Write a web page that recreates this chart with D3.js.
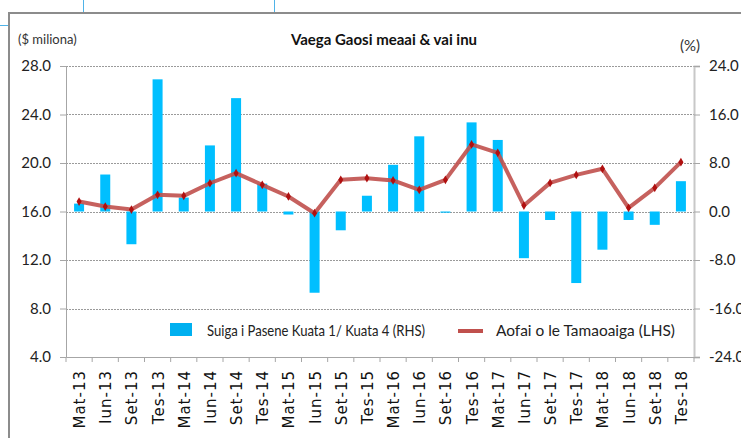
<!DOCTYPE html>
<html>
<head>
<meta charset="utf-8">
<script src="https://cdn.jsdelivr.net/npm/d3@7"></script>
<style>
  body { margin: 0; background: #fff; }
  svg { display: block; font-family: Lato, "Liberation Sans", sans-serif; }
</style>
</head>
<body>
<svg id="chart" width="741" height="438"></svg>
<script>
// quarters on the x axis
const quarters = ["Mat-13","Iun-13","Set-13","Tes-13","Mat-14","Iun-14","Set-14","Tes-14",
  "Mat-15","Iun-15","Set-15","Tes-15","Mat-16","Iun-16","Set-16","Tes-16",
  "Mat-17","Iun-17","Set-17","Tes-17","Mat-18","Iun-18","Set-18","Tes-18"];

// bars: quarterly change in % (right axis)
const changePct = [1.3, 6.1, -5.4, 21.8, 2.3, 10.9, 18.7, 4.6,
  -0.5, -13.4, -3.1, 2.6, 7.7, 12.4, -0.2, 14.7,
  11.8, -7.7, -1.4, -11.8, -6.3, -1.4, -2.2, 5.0];

// line: value in $ millions (left axis)
const valueMil = [16.82, 16.41, 16.16, 17.38, 17.29, 18.33, 19.16, 18.2,
  17.24, 15.86, 18.61, 18.75, 18.56, 17.79, 18.61, 21.53,
  20.84, 16.49, 18.36, 19.02, 19.52, 16.3, 17.95, 20.07];

const leftTicks = [4, 8, 12, 16, 20, 24, 28];
const rightTicks = [-24, -16, -8, 0, 8, 16, 24];

const svg = d3.select("#chart");
const plot = { left: 66, right: 694, top: 66, bottom: 357 };

// bits of the spreadsheet behind the chart
svg.append("g").attr("stroke", "#4fb3e8").attr("stroke-width", 1)
  .selectAll("line")
  .data([[83.5, 0, 83.5, 12], [274.5, 0, 274.5, 12], [0, 25.5, 8, 25.5]])
  .join("line")
  .attr("x1", d => d[0]).attr("y1", d => d[1]).attr("x2", d => d[2]).attr("y2", d => d[3]);

// chart frame
svg.append("path")
  .attr("d", "M9,438V13H741")
  .attr("fill", "none").attr("stroke", "#8c8c8c").attr("stroke-width", 2);

const x = d3.scaleBand().domain(quarters).range([plot.left, plot.right]);
const yL = d3.scaleLinear().domain([4, 28]).range([plot.bottom, plot.top]);
const yR = d3.scaleLinear().domain([-24, 24]).range([plot.bottom, plot.top]);

// dashed gridlines
svg.append("g").selectAll("line").data(leftTicks.slice(1)).join("line")
  .attr("x1", plot.left).attr("x2", plot.right)
  .attr("y1", d => Math.round(yL(d)) + 0.5).attr("y2", d => Math.round(yL(d)) + 0.5)
  .attr("stroke", "#9a9a9a").attr("stroke-dasharray", "2,1");

// bars
const barW = 10;
svg.append("g").selectAll("rect").data(changePct).join("rect")
  .attr("x", (d, i) => x(quarters[i]) + x.bandwidth() / 2 - barW / 2)
  .attr("width", barW)
  .attr("y", d => yR(Math.max(0, d)))
  .attr("height", d => Math.max(1, Math.abs(yR(d) - yR(0))))
  .attr("fill", "#00bfff");

// left axis
const axL = svg.append("g").attr("transform", `translate(${plot.left},0)`)
  .call(d3.axisLeft(yL).tickValues(leftTicks).tickFormat(d3.format(".1f")).tickSizeOuter(0).tickSize(6).tickPadding(9));
axL.select(".domain").attr("stroke", "#a6a6a6");
axL.selectAll(".tick line").attr("stroke", "#a6a6a6");
axL.selectAll("text").attr("font-size", 15).attr("fill", "#222").attr("font-family", "Lato");

// right axis (plain hyphen for negatives, as in the original)
const fmtR = d => d.toFixed(1);
const axR = svg.append("g").attr("transform", `translate(${plot.right},0)`)
  .call(d3.axisRight(yR).tickValues(rightTicks).tickFormat(fmtR).tickSizeOuter(0).tickSize(6).tickPadding(9));
axR.select(".domain").attr("stroke", "#c8c8c8").attr("stroke-width", 2);
axR.selectAll(".tick line").attr("stroke", "#a6a6a6");
axR.selectAll("text").attr("font-size", 15).attr("fill", "#222").attr("font-family", "Lato");

// bottom axis
const axB = svg.append("g").attr("transform", `translate(0,${plot.bottom})`)
  .call(d3.axisBottom(x).tickSize(0).tickSizeOuter(0));
axB.select(".domain").attr("stroke", "#a6a6a6");
axB.selectAll(".tick text")
  .attr("transform", "rotate(-90)")
  .attr("text-anchor", "end")
  .attr("dy", "0.4em")
  .attr("x", -13).attr("y", 0)
  .attr("font-family", "DejaVu Sans").attr("font-size", 15)
  .attr("letter-spacing", 1).attr("fill", "#111");
// tick marks between categories
axB.append("g").selectAll("line").data(d3.range(quarters.length + 1)).join("line")
  .attr("x1", i => plot.left + i * x.step()).attr("x2", i => plot.left + i * x.step())
  .attr("y1", 0).attr("y2", 5).attr("stroke", "#a6a6a6");

// line series
const line = d3.line().x((d, i) => x(quarters[i]) + x.bandwidth() / 2).y(d => yL(d));
svg.append("path").datum(valueMil)
  .attr("d", line).attr("fill", "none")
  .attr("stroke", "#c0504d").attr("stroke-width", 4).attr("stroke-linejoin", "round").attr("opacity", 0.9);
svg.append("g").selectAll("path").data(valueMil).join("path")
  .attr("d", d3.symbol(d3.symbolDiamond, 22))
  .attr("transform", (d, i) => `translate(${x(quarters[i]) + x.bandwidth() / 2},${yL(d)})`)
  .attr("fill", "#b01010");

// titles
svg.append("text").attr("x", 384).attr("y", 45).attr("text-anchor", "middle")
  .attr("font-size", 15).attr("font-weight", "bold").attr("fill", "#111")
  .text("Vaega Gaosi meaai & vai inu");
svg.append("text").attr("x", 18).attr("y", 44)
  .attr("font-size", 13).attr("fill", "#333").text("($ miliona)");
svg.append("text").attr("x", 680).attr("y", 51)
  .attr("font-size", 15).attr("fill", "#333").text("(%)");

// legend
const lg = svg.append("g");
lg.append("rect").attr("x", 170).attr("y", 323).attr("width", 22).attr("height", 13).attr("fill", "#00b0f0");
lg.append("text").attr("x", 207).attr("y", 336).attr("font-size", 15).attr("fill", "#222")
  .attr("textLength", 218).attr("lengthAdjust", "spacingAndGlyphs")
  .text("Suiga i Pasene Kuata 1/ Kuata 4 (RHS)");
lg.append("line").attr("x1", 458).attr("x2", 483).attr("y1", 331).attr("y2", 331)
  .attr("stroke", "#c0504d").attr("stroke-width", 4);
lg.append("text").attr("x", 496).attr("y", 336).attr("font-size", 15).attr("fill", "#222")
  .attr("textLength", 179).attr("lengthAdjust", "spacingAndGlyphs")
  .text("Aofai o le Tamaoaiga (LHS)");
</script>
</body>
</html>
